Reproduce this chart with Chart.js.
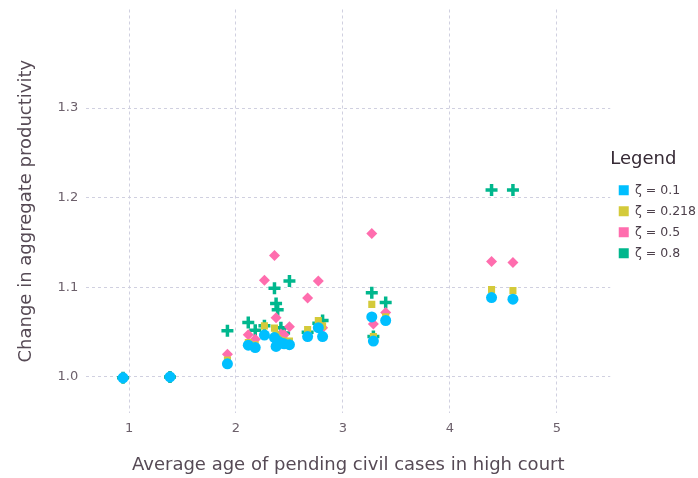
<!DOCTYPE html>
<html>
<head>
<meta charset="utf-8">
<script src="https://cdn.jsdelivr.net/npm/chart.js@4.4.0/dist/chart.umd.min.js"></script>
<style>
  html, body { margin: 0; padding: 0; background: #fff; }
  #wrap { width: 698px; height: 478px; position: relative; }
</style>
</head>
<body>
<div id="wrap"><canvas id="chart"></canvas></div>
<script>
// average age of pending civil cases (one value per state)
const ageX = [0.944, 1.383, 1.92, 2.115, 2.18, 2.266, 2.36, 2.375, 2.39, 2.42, 2.45, 2.5, 2.67, 2.77, 2.81, 3.27, 3.285, 3.40, 4.39, 4.59];

// change in aggregate productivity per zeta
const zeta01  = [0.999, 1.000, 1.0147, 1.0355, 1.0328, 1.0467, 1.044, 1.034, 1.040, 1.038, 1.037, 1.036, 1.045, 1.055, 1.045, 1.067, 1.040, 1.063, 1.0886, 1.0868];
const zeta0218 = [0.999, 1.000, 1.019, 1.0384, 1.036, 1.057, 1.0545, 1.047, 1.043, 1.041, 1.040, 1.040, 1.053, 1.063, 1.057, 1.081, 1.045, 1.067, 1.0974, 1.0963];
const zeta05  = [0.999, 1.000, 1.0254, 1.047, 1.042, 1.108, 1.1355, 1.066, 1.045, 1.048, 1.047, 1.056, 1.088, 1.107, 1.055, 1.160, 1.059, 1.072, 1.1288, 1.1277];
const zeta08  = [0.999, 1.000, 1.0515, 1.0608, 1.052, 1.057, 1.099, 1.082, 1.075, 1.055, 1.049, 1.107, 1.050, 1.060, 1.063, 1.094, 1.045, 1.083, 1.2085, 1.2085];

const seriesLabels = ['ζ = 0.1', 'ζ = 0.218', 'ζ = 0.5', 'ζ = 0.8'];
const xTicks = [1, 2, 3, 4, 5];
const yTicks = [1.0, 1.1, 1.2, 1.3];

const FONT = "'DejaVu Sans', Verdana, sans-serif";
const gridColor = '#d0d0e0';

function pts(ys) {
    return ys.map((y, i) => ({ x: ageX[i], y: y }));
}

const ctx = document.getElementById('chart').getContext('2d');

new Chart(ctx, {
    type: 'scatter',
    data: {
        datasets: [
            { label: seriesLabels[0], data: pts(zeta01), backgroundColor: '#00bfff', borderColor: '#00bfff',
              pointStyle: 'circle', pointRadius: 5.5, borderWidth: 0 },
            { label: seriesLabels[1], data: pts(zeta0218), backgroundColor: '#d4ca3a', borderColor: '#d4ca3a',
              pointStyle: 'rect', pointRadius: 5, borderWidth: 0 },
            { label: seriesLabels[2], data: pts(zeta05), backgroundColor: '#ff6dae', borderColor: '#ff6dae',
              pointStyle: 'rectRot', pointRadius: 5.5, borderWidth: 0 },
            { label: seriesLabels[3], data: pts(zeta08), backgroundColor: '#00b78d', borderColor: '#00b78d',
              pointStyle: 'cross', pointRadius: 6, borderWidth: 3.5 }
        ]
    },
    options: {
        responsive: true,
        maintainAspectRatio: false,
        animation: false,
        layout: { padding: { left: 12, right: -8, top: 8, bottom: 0 } },
        plugins: {
            tooltip: { enabled: false },
            legend: {
                position: 'right',
                align: 'start',
                title: { display: true, text: 'Legend', color: '#362a35', position: 'start',
                         font: { family: FONT, size: 18 }, padding: { top: 142, bottom: 4 } },
                labels: {
                    color: '#4c404b',
                    font: { family: FONT, size: 12.5 },
                    boxWidth: 10, boxHeight: 10, padding: 8.5,
                    generateLabels: chart => chart.data.datasets.map((ds, i) => ({
                        text: ds.label,
                        fillStyle: ds.backgroundColor,
                        strokeStyle: ds.backgroundColor,
                        lineWidth: 0,
                        pointStyle: 'rect',
                        datasetIndex: i,
                        fontColor: '#4c404b'
                    }))
                }
            }
        },
        scales: {
            x: {
                type: 'linear',
                min: 0.6, max: 5.5,
                afterBuildTicks: s => { s.ticks = xTicks.map(v => ({ value: v })); },
                grid: { color: gridColor, drawTicks: false },
                border: { display: false, dash: [3, 3] },
                ticks: { color: '#6c606b', font: { family: FONT, size: 13 }, padding: 8 },
                title: { display: true, text: 'Average age of pending civil cases in high court',
                         color: '#564a55', font: { family: FONT, size: 18 }, padding: { top: 10, bottom: 2 } }
            },
            y: {
                type: 'linear',
                min: 0.96, max: 1.41,
                afterBuildTicks: s => { s.ticks = yTicks.map(v => ({ value: v })); },
                afterFit: s => { s.paddingTop = 0; s.paddingBottom = 0; },
                grid: { color: gridColor, drawTicks: false },
                border: { display: false, dash: [3, 3] },
                ticks: { color: '#6c606b', font: { family: FONT, size: 13 }, padding: 8,
                         callback: v => v.toFixed(1) },
                title: { display: true, text: 'Change in aggregate productivity',
                         color: '#564a55', font: { family: FONT, size: 18 }, padding: { bottom: 12 } }
            }
        }
    }
});
</script>
</body>
</html>
